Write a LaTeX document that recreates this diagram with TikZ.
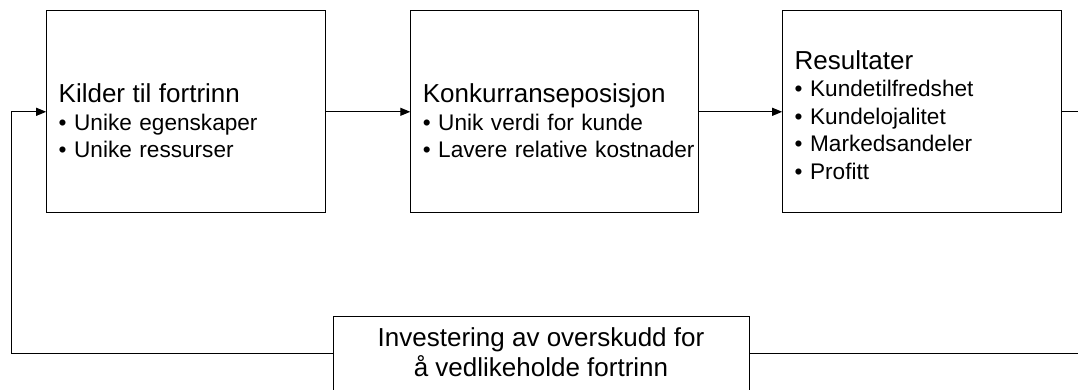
\documentclass[tikz,border=0pt]{standalone}
\usepackage{fontspec}
\setmainfont{Liberation Sans}
\usetikzlibrary{arrows.meta}

\tikzset{
    boks/.style 2 args={draw, line width=1pt, rectangle, minimum width=#1,
        minimum height=202pt, inner xsep=12pt, text width=#1-24pt,
        text height=#2, align=left,
        font=\fontsize{22.6}{27.5}\selectfont},
    pil/.style={line width=1pt, -{Triangle[length=10pt, width=8pt]}},
    linje/.style={line width=1pt}
}
\newcommand{\tittel}[1]{{\fontsize{26}{27.5}\selectfont #1}}

\begin{document}
\begin{tikzpicture}[x=1pt, y=1pt]
    \useasboundingbox (0,0) rectangle (1078,389);

    % The three stages
    \node[boks={279pt}{37.5pt}] (kilder) at (186.2, 277.2)
        {\tittel{Kilder til fortrinn}\\
         \mbox{• Unike egenskaper}\\
         \mbox{• Unike ressurser}};
    \node[boks={288pt}{37.5pt}] (posisjon) at (554.8, 277.2)
        {\tittel{Konkurranseposisjon}\\
         \mbox{• Unik verdi for kunde}\\
         \mbox{• Lavere relative kostnader}};
    \node[boks={279pt}{25pt}] (resultater) at (922.2, 277.2)
        {\tittel{Resultater}\\
         \mbox{• Kundetilfredshet}\\
         \mbox{• Kundelojalitet}\\
         \mbox{• Markedsandeler}\\
         \mbox{• Profitt}};

    % Feedback box (runs off the bottom edge)
    \node[draw, line width=1pt, anchor=north, minimum width=416pt,
          inner ysep=11pt, text depth=4pt, align=center,
          font=\fontsize{26}{30.7}\selectfont] (investering) at (541, 73.3)
        {Investering av overskudd for\\ å vedlikeholde fortrinn};

    % Corner points of the feedback loop
    \coordinate (venstre) at (11.7, 35.7);
    \coordinate (hoyre) at (1095, 277.2);

    % Forward arrows
    \draw[pil] (kilder) -- (posisjon);
    \draw[pil] (posisjon) -- (resultater);

    % Feedback loop
    \draw[linje] (resultater.east) -- (hoyre) |- (investering.east);
    \draw[pil] (investering.west) -| (venstre) |- (kilder.west);
\end{tikzpicture}
\end{document}
